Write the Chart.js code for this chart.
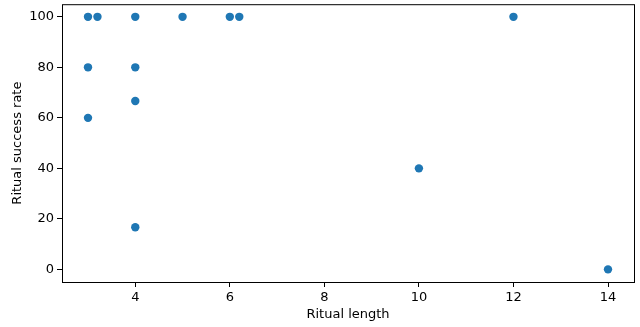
<!DOCTYPE html>
<html>
<head>
<meta charset="utf-8">
<script src="https://cdn.jsdelivr.net/npm/chart.js@4"></script>
<style>
  html, body { margin: 0; padding: 0; background: #fff; }
  #wrap { width: 640px; height: 327px; }
</style>
</head>
<body>
<div id="wrap"><canvas id="chart"></canvas></div>
<script>
// ritual length vs. success rate
const ritualLength = [3, 3, 3, 3.2, 4, 4, 4, 4, 5, 6, 6.2, 10, 12, 14];
const successRate = [100, 80, 60, 100, 100, 80, 66.67, 16.67, 100, 100, 100, 40, 100, 0];
const xTicks = [4, 6, 8, 10, 12, 14];
const yTicks = [0, 20, 40, 60, 80, 100];

const font = { family: 'DejaVu Sans', size: 13 };

// matplotlib-style frame round the plot area
const framePlugin = {
  id: 'frame',
  afterDraw(chart) {
    const { ctx, chartArea: a } = chart;
    ctx.save();
    ctx.strokeStyle = '#000';
    ctx.lineWidth = 1;
    ctx.strokeRect(a.left + 0.5, a.top + 0.5, a.right - a.left, a.bottom - a.top);
    ctx.restore();
  }
};

new Chart(document.getElementById('chart'), {
  type: 'scatter',
  data: {
    datasets: [{
      data: ritualLength.map((x, i) => ({ x, y: successRate[i] })),
      backgroundColor: '#1f77b4',
      borderColor: '#1f77b4',
      pointRadius: 4.2,
      pointHoverRadius: 4.2,
      borderWidth: 0
    }]
  },
  options: {
    responsive: true,
    maintainAspectRatio: false,
    animation: false,
    layout: { padding: { top: 3, right: 6, left: 0, bottom: 0 } },
    plugins: { legend: { display: false }, tooltip: { enabled: false } },
    scales: {
      x: {
        type: 'linear',
        min: 2.45,
        max: 14.55,
        afterBuildTicks: s => { s.ticks = xTicks.map(v => ({ value: v })); },
        afterFit: s => { s.height = 45; s.paddingLeft = 0; s.paddingRight = 0; },
        grid: { drawOnChartArea: false, drawTicks: true, tickLength: 5, color: '#000' },
        border: { display: false },
        ticks: { font, color: '#000', padding: 3, maxRotation: 0 },
        title: { display: true, text: 'Ritual length', font, color: '#000', padding: { top: 0, bottom: 5 } }
      },
      y: {
        type: 'linear',
        min: -5,
        max: 105,
        afterBuildTicks: s => { s.ticks = yTicks.map(v => ({ value: v })); },
        afterFit: s => { s.width = 62; s.paddingTop = 0; s.paddingBottom = 0; },
        grid: { drawOnChartArea: false, drawTicks: true, tickLength: 5, color: '#000' },
        border: { display: false },
        ticks: { font, color: '#000', padding: 3 },
        title: { display: true, text: 'Ritual success rate', font, color: '#000', padding: { top: 10, bottom: 2 } }
      }
    }
  },
  plugins: [framePlugin]
});
</script>
</body>
</html>
